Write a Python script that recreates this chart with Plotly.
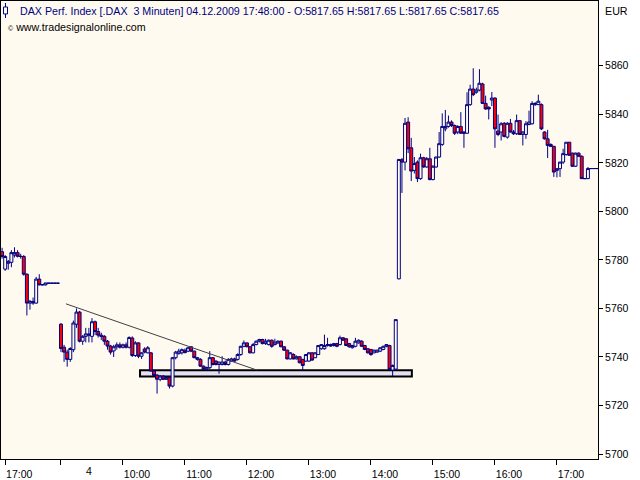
import plotly.graph_objects as go

# ---------------- data (3-minute DAX bars) ----------------
# bar sequence number: 0 = 09:00 on the 4th, negatives = previous session
BAR_INDEX = list(range(-19, 177))

OPEN = [
    5783.4, 5776.2, 5778.6, 5779.0, 5782.0, 5783.0, 5781.5, 5781.4, 5774.1, 5762.2,
    5762.9, 5762.2, 5772.1, 5769.7, 5769.7, 5770.4, 5770.4, 5770.4, 5770.4,
    5753.5, 5744.0, 5742.0, 5739.0, 5743.0, 5753.5, 5758.5, 5746.5, 5748.5, 5749.5,
    5748.5, 5754.5, 5750.5, 5749.0, 5748.5, 5746.5, 5744.5, 5742.5, 5744.2, 5745.0,
    5744.0, 5745.0, 5744.0, 5747.8, 5740.6, 5745.8, 5740.3, 5743.3, 5741.7, 5741.7,
    5734.2, 5732.5, 5730.8, 5732.1, 5730.8, 5731.5, 5728.0, 5739.7, 5741.4, 5741.7,
    5742.8, 5742.4, 5744.2, 5742.4, 5739.0, 5739.0, 5736.2, 5735.0, 5735.6, 5739.7,
    5738.3, 5736.9, 5736.9, 5737.9, 5736.9, 5738.3, 5739.2, 5739.0, 5741.0, 5744.4,
    5745.8, 5744.2, 5741.7, 5745.1, 5746.5, 5747.2, 5745.5, 5745.1, 5746.9, 5745.1,
    5745.8, 5746.5, 5744.2, 5742.8, 5739.2, 5741.0, 5739.2, 5740.1, 5739.0, 5738.3,
    5738.3, 5741.7, 5739.7, 5741.0, 5743.4, 5743.4, 5744.7, 5745.1, 5744.7, 5745.5,
    5745.1, 5747.9, 5747.5, 5745.5, 5743.8, 5744.4, 5745.8, 5746.5, 5744.7, 5743.4,
    5743.1, 5741.7, 5742.0, 5742.4, 5743.1, 5744.4, 5744.7, 5734.6, 5735.0, 5772.2,
    5821.3, 5820.3, 5836.8, 5826.2, 5816.9, 5820.3, 5813.5, 5822.1, 5818.3, 5821.7,
    5813.1, 5818.3, 5822.4, 5827.6, 5834.0, 5835.0, 5836.8, 5835.4, 5832.7, 5835.0,
    5832.7, 5832.2, 5844.0, 5850.4, 5849.1, 5850.0, 5852.5, 5844.5, 5842.9, 5845.9,
    5846.7, 5833.1, 5832.7, 5836.3, 5830.6, 5836.3, 5832.7, 5832.0, 5837.4, 5831.7,
    5831.7, 5835.8, 5836.1, 5844.0, 5844.0, 5844.0, 5832.7, 5829.9, 5827.6, 5826.8,
    5816.9, 5817.6, 5820.3, 5823.4, 5828.5, 5824.0, 5818.6, 5824.0, 5822.7, 5813.5,
    5813.5, 5817.65, 5817.65, 5817.65, 5817.65, 5817.65, 5817.65,
]
HIGH = [
    5785.0, 5782.0, 5780.0, 5784.0, 5785.2, 5784.0, 5782.5, 5782.0, 5774.5, 5763.5,
    5764.5, 5773.0, 5774.1, 5770.0, 5770.5, 5770.4, 5770.4, 5770.4, 5770.4,
    5754.0, 5745.0, 5743.0, 5744.0, 5755.0, 5760.0, 5759.0, 5749.0, 5752.0, 5752.0,
    5756.0, 5755.0, 5752.0, 5750.0, 5749.0, 5747.0, 5745.0, 5745.0, 5746.0, 5746.0,
    5745.5, 5746.0, 5748.5, 5748.5, 5746.5, 5746.0, 5742.0, 5744.0, 5744.5, 5742.0,
    5734.5, 5733.0, 5732.5, 5732.5, 5732.0, 5732.0, 5740.0, 5742.5, 5743.4, 5743.5,
    5743.5, 5744.0, 5744.4, 5742.6, 5740.0, 5739.5, 5736.5, 5736.0, 5742.4, 5740.0,
    5738.6, 5738.0, 5740.3, 5738.5, 5739.5, 5739.7, 5739.7, 5741.5, 5744.6, 5746.8,
    5746.0, 5744.5, 5745.8, 5746.8, 5747.5, 5747.5, 5747.5, 5747.2, 5747.2, 5747.5,
    5746.8, 5746.8, 5744.5, 5743.0, 5742.0, 5741.5, 5740.6, 5740.3, 5739.2, 5741.2,
    5742.0, 5742.0, 5742.0, 5744.9, 5745.3, 5749.2, 5747.9, 5745.5, 5745.8, 5745.8,
    5748.8, 5748.2, 5747.8, 5745.8, 5745.0, 5747.9, 5747.2, 5746.9, 5745.0, 5743.6,
    5743.3, 5743.0, 5743.0, 5744.0, 5744.6, 5745.3, 5745.0, 5736.9, 5755.4, 5821.5,
    5822.0, 5838.5, 5838.8, 5830.3, 5822.4, 5821.0, 5823.8, 5822.5, 5822.4, 5826.2,
    5819.0, 5822.5, 5832.7, 5840.4, 5841.8, 5839.5, 5837.5, 5835.8, 5835.5, 5840.9,
    5833.0, 5849.1, 5852.2, 5859.0, 5851.0, 5858.6, 5853.0, 5847.7, 5843.3, 5849.2,
    5847.0, 5839.9, 5836.8, 5836.8, 5836.8, 5838.1, 5833.5, 5839.9, 5837.6, 5833.0,
    5837.2, 5841.5, 5845.4, 5845.0, 5848.1, 5844.5, 5833.0, 5833.6, 5828.0, 5827.0,
    5817.6, 5820.5, 5825.8, 5828.5, 5828.5, 5824.2, 5824.2, 5824.3, 5823.1, 5813.5,
    5818.3, 5817.65, 5817.65, 5817.65, 5817.65, 5817.65, 5817.65,
]
LOW = [
    5780.5, 5775.5, 5776.0, 5777.0, 5781.0, 5781.0, 5780.5, 5773.5, 5757.1, 5759.5,
    5761.5, 5762.0, 5769.5, 5769.5, 5769.5, 5770.4, 5770.4, 5770.4, 5770.4,
    5742.0, 5738.0, 5736.0, 5738.0, 5742.0, 5752.0, 5746.0, 5745.0, 5746.0, 5746.0,
    5746.0, 5749.0, 5748.0, 5747.0, 5745.0, 5743.0, 5741.0, 5740.0, 5743.0, 5743.5,
    5743.5, 5743.5, 5743.5, 5740.0, 5740.0, 5739.5, 5739.2, 5741.5, 5741.5, 5734.0,
    5732.0, 5724.9, 5730.0, 5730.5, 5730.5, 5727.0, 5727.5, 5739.0, 5741.0, 5741.0,
    5741.5, 5742.0, 5742.0, 5739.5, 5738.5, 5736.0, 5734.5, 5734.6, 5735.0, 5736.5,
    5736.5, 5733.1, 5736.5, 5736.5, 5736.5, 5738.0, 5738.0, 5738.5, 5740.5, 5744.0,
    5744.0, 5741.5, 5741.5, 5744.8, 5746.0, 5745.2, 5745.0, 5744.8, 5743.8, 5744.8,
    5745.3, 5744.0, 5742.5, 5739.0, 5739.0, 5739.0, 5739.0, 5737.4, 5734.6, 5738.0,
    5738.0, 5738.5, 5739.5, 5740.8, 5743.0, 5743.0, 5744.3, 5744.2, 5744.3, 5744.0,
    5744.8, 5746.7, 5744.5, 5743.8, 5743.5, 5744.0, 5745.5, 5744.2, 5742.8, 5741.4,
    5740.5, 5741.5, 5741.8, 5742.0, 5742.8, 5744.0, 5734.6, 5732.1, 5734.9, 5772.0,
    5807.6, 5816.9, 5824.0, 5812.5, 5815.6, 5812.1, 5813.0, 5818.0, 5818.0, 5812.8,
    5812.8, 5818.0, 5822.0, 5827.0, 5833.0, 5834.5, 5834.8, 5831.5, 5831.8, 5832.0,
    5826.2, 5832.0, 5843.5, 5847.5, 5848.5, 5849.5, 5844.3, 5841.9, 5837.9, 5843.4,
    5826.2, 5831.0, 5829.2, 5830.5, 5830.0, 5832.5, 5831.5, 5831.5, 5831.5, 5827.2,
    5829.9, 5835.5, 5835.8, 5843.5, 5843.8, 5833.5, 5829.6, 5822.0, 5826.5, 5814.2,
    5814.0, 5814.2, 5819.5, 5823.0, 5823.0, 5818.3, 5818.3, 5822.5, 5813.3, 5813.5,
    5813.3, 5817.65, 5817.65, 5817.65, 5817.65, 5817.65, 5817.65,
]
CLOSE = [
    5781.4, 5781.4, 5779.3, 5783.0, 5783.0, 5781.5, 5781.4, 5774.1, 5762.2, 5762.9,
    5762.2, 5772.1, 5769.7, 5769.8, 5770.5, 5770.4, 5770.4, 5770.4, 5770.4,
    5743.5, 5742.0, 5739.0, 5743.5, 5754.0, 5758.5, 5746.5, 5748.5, 5749.5, 5749.0,
    5754.5, 5750.5, 5749.0, 5748.5, 5746.5, 5744.5, 5742.0, 5744.2, 5745.0, 5744.0,
    5745.0, 5744.0, 5748.0, 5740.6, 5745.8, 5740.3, 5741.7, 5742.0, 5743.8, 5734.2,
    5732.4, 5730.8, 5732.1, 5730.8, 5731.5, 5728.0, 5739.7, 5742.0, 5742.4, 5743.0,
    5741.8, 5743.8, 5742.4, 5739.7, 5739.7, 5736.2, 5735.0, 5735.6, 5739.7, 5736.9,
    5736.9, 5737.9, 5737.9, 5736.9, 5739.0, 5739.2, 5738.3, 5741.0, 5744.4, 5745.8,
    5744.2, 5741.7, 5745.1, 5746.5, 5747.2, 5745.5, 5746.5, 5746.9, 5744.4, 5746.1,
    5746.5, 5744.2, 5742.8, 5739.2, 5741.7, 5739.2, 5740.1, 5737.6, 5736.5, 5741.0,
    5741.7, 5738.7, 5741.7, 5744.7, 5745.1, 5744.7, 5745.1, 5744.5, 5745.5, 5744.4,
    5747.9, 5746.9, 5744.7, 5744.2, 5744.7, 5746.5, 5746.9, 5744.4, 5743.1, 5741.7,
    5741.0, 5742.8, 5742.8, 5743.8, 5744.4, 5745.1, 5734.9, 5736.5, 5755.4, 5821.4,
    5820.3, 5836.3, 5825.8, 5816.6, 5819.7, 5813.5, 5822.1, 5818.3, 5821.7, 5813.1,
    5818.6, 5822.4, 5827.9, 5835.0, 5835.0, 5836.8, 5835.4, 5832.2, 5835.0, 5832.2,
    5832.2, 5844.0, 5850.4, 5848.1, 5850.0, 5852.8, 5844.5, 5842.2, 5842.2, 5846.7,
    5834.0, 5831.7, 5836.1, 5830.9, 5836.3, 5832.7, 5832.0, 5837.4, 5831.7, 5832.7,
    5836.1, 5836.8, 5844.5, 5844.5, 5845.4, 5834.0, 5829.9, 5827.2, 5826.8, 5816.2,
    5817.6, 5820.3, 5823.8, 5828.5, 5823.1, 5818.6, 5824.0, 5822.7, 5813.5, 5813.5,
    5817.65, 5817.65, 5817.65, 5817.65, 5817.65, 5817.65, 5817.65,
]

TICK_BARS = [-18, 0, 20, 40, 60, 80, 100, 120, 140, 160]
TICK_TEXT = ["17:00", "", "10:00", "11:00", "12:00", "13:00", "14:00", "15:00", "16:00", "17:00"]
DATE_LABEL = "4"
DATE_LABEL_BAR = 9
PRICE_TICKS = [5700, 5720, 5740, 5760, 5780, 5800, 5820, 5840, 5860]

TREND_BARS = [1.6, 63.2]
TREND_PRICES = [5761.9, 5734.6]
SUPPORT_BARS = [25.5, 113.2]
SUPPORT_PRICES = [5732.0, 5734.5]

TITLE = ("DAX Perf. Index [.DAX \u00a03 Minuten] 04.12.2009 17:48:00 - "
         "O:5817.65 H:5817.65 L:5817.65 C:5817.65")
SOURCE = "www.tradesignalonline.com"

# ---------------- figure ----------------
NAVY = "#000080"
BG = "#FFFAF0"
W, H = 640, 480
ML, MR, MT, MB = 1, 42, 0, 20
PW, PH = W - ML - MR, H - MT - MB


def px(xp):
    return (xp - ML) / PW


def py(yp):
    return 1 - (yp - MT) / PH


fig = go.Figure(go.Candlestick(
    x=BAR_INDEX, open=OPEN, high=HIGH, low=LOW, close=CLOSE,
    increasing=dict(line=dict(color=NAVY, width=1), fillcolor=BG),
    decreasing=dict(line=dict(color=NAVY, width=1), fillcolor="#FF0000"),
    whiskerwidth=0, hoverinfo="skip", showlegend=False,
))

fig.add_shape(type="rect", xref="x", yref="y",
              x0=SUPPORT_BARS[0], x1=SUPPORT_BARS[1],
              y0=SUPPORT_PRICES[0], y1=SUPPORT_PRICES[1],
              fillcolor="#E3E1F3", line=dict(color="black", width=2), layer="below")
fig.add_shape(type="line", xref="x", yref="y",
              x0=TREND_BARS[0], x1=TREND_BARS[1],
              y0=TREND_PRICES[0], y1=TREND_PRICES[1],
              line=dict(color="#404040", width=1))

# small candle icon before the title
fig.add_shape(type="line", xref="paper", yref="paper",
              x0=px(5.5), x1=px(5.5), y0=py(2), y1=py(17),
              line=dict(color=NAVY, width=1))
fig.add_shape(type="rect", xref="paper", yref="paper",
              x0=px(3.5), x1=px(7.5), y0=py(6), y1=py(13),
              fillcolor="white", line=dict(color=NAVY, width=1))

fig.add_annotation(text=TITLE, xref="paper", yref="paper", x=px(17.5), y=py(10),
                   xanchor="left", yanchor="middle", showarrow=False,
                   font=dict(color=NAVY, size=10.7))
fig.add_annotation(text="<span style='font-size:7px'>\u00a9</span> " + SOURCE,
                   xref="paper", yref="paper", x=px(5.5), y=py(26),
                   xanchor="left", yanchor="middle", showarrow=False,
                   font=dict(color="black", size=10.7))
fig.add_annotation(text="EUR", xref="paper", yref="paper", x=px(603), y=py(10),
                   xanchor="left", yanchor="middle", showarrow=False,
                   font=dict(color="black", size=10.7))
fig.add_annotation(text=DATE_LABEL, xref="x", yref="paper", x=DATE_LABEL_BAR, y=py(472),
                   xanchor="center", yanchor="middle", showarrow=False,
                   font=dict(color="black", size=10.5))

fig.update_layout(
    width=W, height=H,
    margin=dict(l=ML, r=MR, t=MT, b=MB, pad=0),
    paper_bgcolor="white", plot_bgcolor=BG,
    font=dict(family="Liberation Sans, Arial, sans-serif", size=10.5, color="black"),
    boxgap=0.05, boxgroupgap=0,
    showlegend=False,
    xaxis=dict(
        range=[-19.35, 173.25], rangeslider=dict(visible=False),
        showgrid=False, zeroline=False,
        showline=True, mirror=True, linecolor="black", linewidth=1,
        ticks="outside", ticklen=5, tickcolor="black", tickwidth=1,
        tickvals=TICK_BARS, ticktext=TICK_TEXT, ticklabelshift=14,
        tickfont=dict(size=10.5, color="black"),
    ),
    yaxis=dict(
        range=[5697.95, 5886.7], side="right",
        showgrid=False, zeroline=False,
        showline=True, mirror=True, linecolor="black", linewidth=1,
        ticks="outside", ticklen=4, tickcolor="black", tickwidth=1,
        tickvals=PRICE_TICKS, tickfont=dict(size=10.5, color="black"),
    ),
)

fig.write_html("out.html", config={"displayModeBar": False},
               post_script="document.body.style.margin='0';document.body.style.overflow='hidden';")
